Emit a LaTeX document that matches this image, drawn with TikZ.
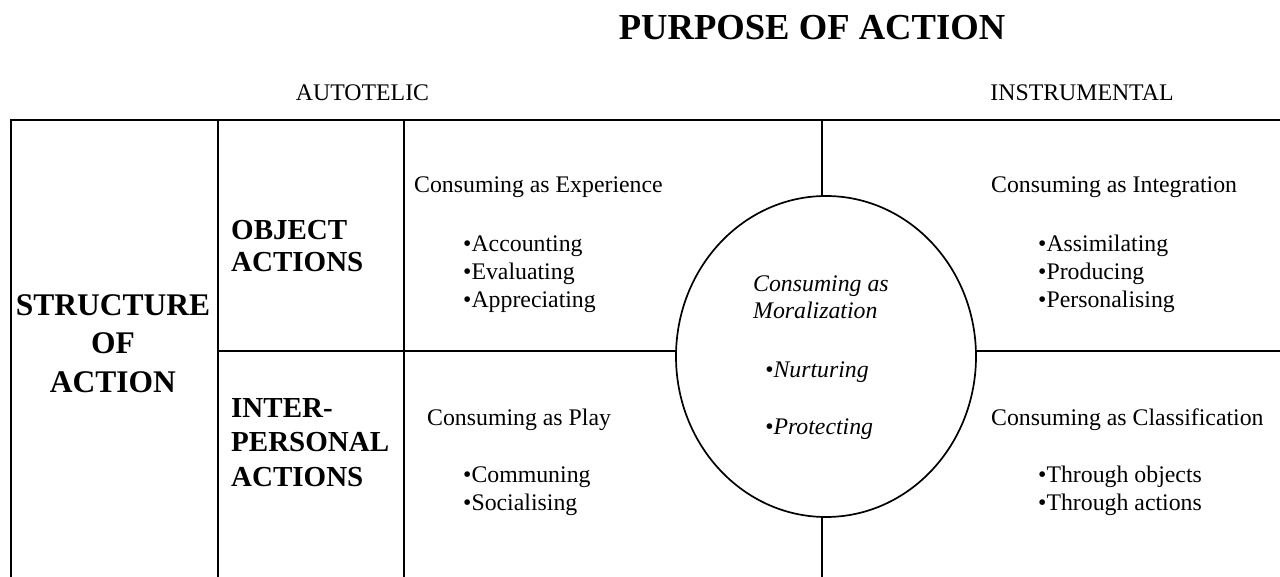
\documentclass[tikz,border=0pt]{standalone}
\usepackage{fontspec}
\setmainfont{Liberation Serif}
\usetikzlibrary{shapes,positioning}

\begin{document}
\begin{tikzpicture}[x=1pt,y=-1pt,
    body/.style={font=\fontsize{23.8}{28}\selectfont, anchor=base west, align=left, inner sep=0pt},
    rowhead/.style={font=\fontsize{29}{33.5}\selectfont\bfseries, anchor=base west, align=left, inner sep=0pt},
    outer/.style={line width=2.2pt},
    inner/.style={line width=1.7pt}]
    \useasboundingbox (0,0) rectangle (1280,577);

    % Titel und Achsen
    \node[font=\fontsize{36.6}{40}\selectfont\bfseries, anchor=base, inner sep=0pt] (purpose) at (812,40) {PURPOSE OF ACTION};
    \node[body, anchor=base] (autotelic) at (362.5,101) {AUTOTELIC};
    \node[body, anchor=base] (instrumental) at (1082,101) {INSTRUMENTAL};

    % Gitter der Tabelle
    \draw[outer] (11,577) -- (11,120) -- (1280,120);
    \draw[outer] (218,120) -- (218,577);
    \draw[inner] (404,120) -- (404,577);

    % Kreis in der Mitte
    \node[ellipse, draw, line width=1.7pt, minimum width=300pt, minimum height=321pt, inner sep=0pt] (moral) at (826,356.5) {};
    \draw[inner] (822,120) -- (822,196.1);
    \draw[inner] (822,516.9) -- (822,577);
    \draw[outer] (218,351) -- (676.1,351);
    \draw[outer] (975.9,351) -- (1280,351);

    % Linke Spalte (base = letzte Zeile)
    \node[font=\fontsize{31.5}{38.5}\selectfont\bfseries, anchor=base, align=center, inner sep=0pt] (structure) at (113,392) {STRUCTURE\\OF\\ACTION};
    \node[rowhead, font=\fontsize{29}{32.5}\selectfont\bfseries] (object) at (231,272) {OBJECT\\ACTIONS};
    \node[rowhead, font=\fontsize{29}{34.5}\selectfont\bfseries] (inter) at (231,486) {INTER-\\PERSONAL\\ACTIONS};

    % Felder links
    \node[body] (experience) at (414,193) {Consuming as Experience};
    \node[body] (expitems) at (463,308) {•Accounting\\•Evaluating\\•Appreciating};
    \node[body] (play) at (427,425) {Consuming as Play};
    \node[body] (playitems) at (463,510) {•Communing\\•Socialising};

    % Felder rechts
    \node[body] (integration) at (991,193) {Consuming as Integration};
    \node[body] (intitems) at (1038,308) {•Assimilating\\•Producing\\•Personalising};
    \node[body] (classification) at (991,425) {Consuming as Classification};
    \node[body] (classitems) at (1038,510) {•Through objects\\•Through actions};

    % Text im Kreis (kursiv)
    \node[body, font=\fontsize{23.8}{27}\selectfont\itshape] (moraltitle) at (753,319) {Consuming as\\Moralization};
    \node[body, font=\fontsize{23.8}{57}\selectfont\itshape] (moralitems) at (765,434) {•Nurturing\\•Protecting};
\end{tikzpicture}
\end{document}
